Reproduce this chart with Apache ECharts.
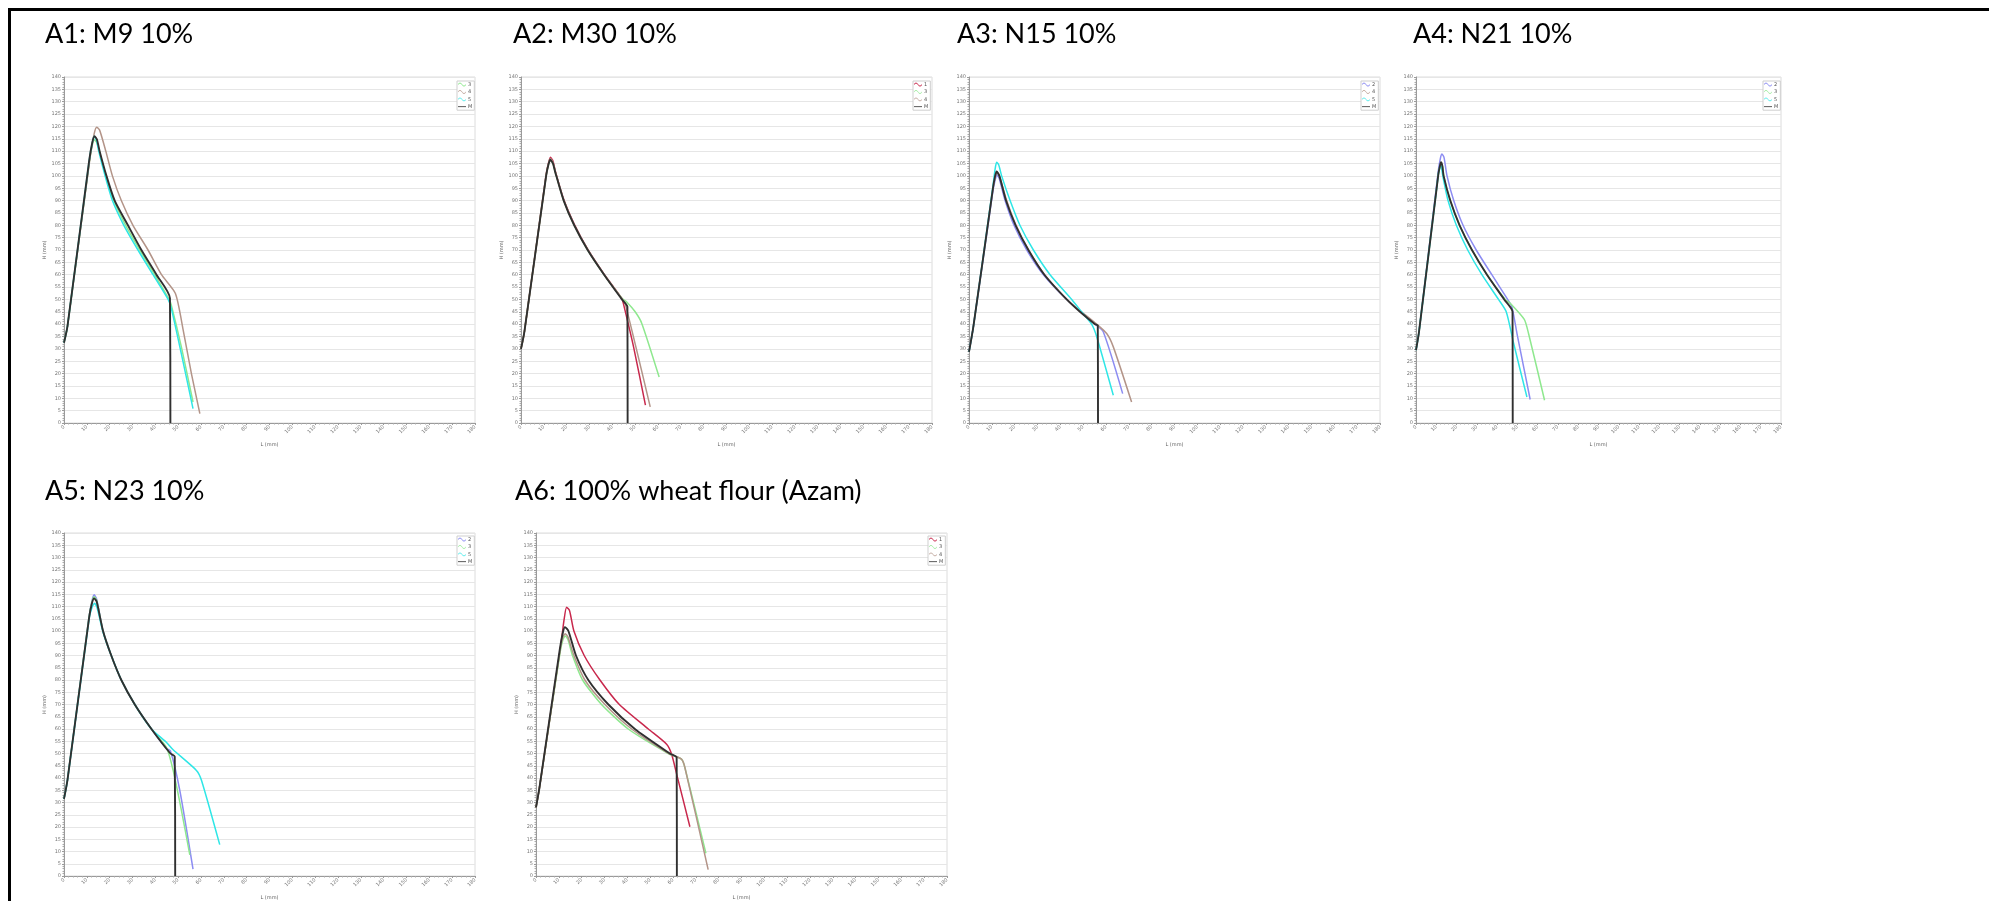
<!DOCTYPE html>
<html><head><meta charset="utf-8">
<script src="https://cdn.jsdelivr.net/npm/echarts/dist/echarts.min.js"></script>
<style>html,body{margin:0;padding:0;background:#fff}#c{width:1989px;height:901px}</style>
</head><body><div id="c"></div>
<script>
// ---------- tick settings ----------
const X_MIN = 0, X_MAX = 180, X_STEP = 10;
const Y_MIN = 0, Y_MAX = 140, Y_STEP = 5;
const X_NAME = 'L (mm)', Y_NAME = 'H (mm)';
const TITLES = ['A1: M9 10%', 'A2: M30 10%', 'A3: N15 10%', 'A4: N21 10%', 'A5: N23 10%', 'A6: 100% wheat flour (Azam)'];

// ---------- data: [L (mm), H (mm)] ----------
const A1_3 = [[0,32.5],[1.5,39],[11,105],[12.3,112],[13.2,114.6],[14.3,113.5],[15.5,110],[18.3,100],[21.8,90],[27,80],[33.2,70],[39.7,60],[46,50],[47,47.7],[51.4,30.8],[56.5,8.5]];
const A1_4 = [[0,32.5],[1.5,39],[11.5,108],[13.2,117],[14.3,119.7],[15.6,118.5],[18.3,110],[21.2,100],[25.1,90],[30.2,80],[36.8,70],[42.7,60],[48.8,52.4],[52.2,37.6],[55.8,20],[59.5,3.8]];
const A1_5 = [[0,32.5],[1.5,39],[11,106],[12.3,113],[13.2,116],[14.2,114.5],[15.2,110],[18,100],[21.2,90],[26.2,80],[32.4,70],[39,60],[45.6,50],[47,46.4],[51.4,28],[56.5,5.8]];
const A1_M = [[0,32.5],[1.5,39],[11,106],[12.4,113.5],[13.4,116],[14.4,114.8],[15.6,110],[18.6,100],[22.2,90],[28,80],[33.9,70],[40.5,60],[46.4,50.5],[46.6,0]];

const A2_1 = [[0,30],[1.5,37],[11,100.5],[12,105],[12.9,107.5],[14,106],[15,102],[18.7,90.5],[23.3,80.5],[29.2,70.3],[36.4,60.2],[44.2,50.3],[44.8,48.5],[49.3,30.8],[54.5,7.2]];
const A2_3 = [[0,30],[1.5,37],[11,100],[12,104.5],[12.8,106.5],[14,105],[15,101.5],[18.7,90],[23.3,80],[29.2,70],[36.4,60],[44.2,50.5],[46.3,49],[50,45],[52.9,40.3],[60.5,18.6]];
const A2_4 = [[0,30],[1.5,37],[11,100],[12,104.8],[12.9,107],[14,105.5],[15,101.8],[18.7,90.2],[23.3,80.2],[29.2,70.2],[36.4,60.1],[44.2,50.3],[45.6,48.4],[56.6,6.5]];
const A2_M = [[0,30],[1.5,37],[11,100],[12,104.5],[12.8,106.5],[14,105],[15,101.5],[18.7,90],[23.3,80],[29.2,70],[36.4,60],[44.2,50],[46.6,47],[46.7,0]];

const A3_2 = [[0,28.8],[1.9,38.9],[10.5,94],[11.5,98.5],[12.2,100.4],[13.2,99],[15.8,90],[19.7,80],[25.3,70],[32.6,60],[42.8,50],[55.2,40],[58.8,36.9],[67.3,11.9]];
const A3_4 = [[0,28.8],[1.9,38.9],[10.5,95],[11.5,99.5],[12.3,101.5],[13.3,100],[16.5,90],[20.6,80],[26.1,70],[33.1,60],[42.8,50],[55.9,40],[60.3,36.2],[63.2,30.8],[71.2,8.5]];
const A3_5 = [[0,28.8],[1.9,38.9],[10.5,96],[11.4,102.5],[12.1,105.5],[13,104.5],[14.3,100],[18,90],[22.3,80],[28.2,70],[35.5,60],[45,50],[49.3,45],[53.7,40],[55.9,35],[63.2,11.2]];
const A3_M = [[0,28.8],[1.9,38.9],[10.5,95],[11.4,99.8],[12.1,101.8],[13.3,100],[16.2,90],[20.4,80],[26,70],[33,60],[42.8,50],[48.6,45],[55.2,40],[56.4,39.5],[56.5,0]];

const A4_2 = [[0,29.5],[1.5,37],[11,102],[12,107],[12.8,108.8],[13.8,107.5],[15.3,100],[18.6,90],[23.2,80],[29.7,70],[37.4,60],[45.2,50],[47.3,47],[49.8,36.2],[56.3,9.5]];
const A4_3 = [[0,29.5],[1.5,37],[11,100.5],[11.8,103.8],[12.3,105],[13.2,103.5],[13.7,100],[16.9,90],[21.5,80],[27.6,70],[35,60],[44,50],[46.5,48.4],[53.4,41.9],[55.5,36.2],[63.4,9.2]];
const A4_5 = [[0,29.5],[1.5,37],[11,100.5],[11.7,103.5],[12.2,104.7],[13.2,100],[15.8,90],[19.9,80],[25.5,70],[32.5,60],[40.7,50],[44.5,45],[48.1,32.4],[54.7,10.5]];
const A4_M = [[0,29.5],[1.5,37],[11,100.5],[11.8,104],[12.3,105.5],[13,104],[13.6,100],[16.9,90],[21.5,80],[27.6,70],[35,60],[43.5,50],[47.6,45],[47.7,0]];

const A5_2 = [[0,31.5],[1.5,39],[11,106],[12.3,112.5],[13.2,114.8],[14.3,113],[17.1,100],[20.7,90],[25.1,80],[31,70],[38.3,60],[44.9,52],[46.6,51.1],[50.7,35],[56.5,2.8]];
const A5_3 = [[0,31.5],[1.5,39],[11,106],[12.3,112],[13.2,114],[14.3,112.5],[17.1,100],[20.7,90],[25.1,80],[31,70],[38.3,60],[44.9,52.4],[47.8,43.1],[51.4,26.9],[55.1,8.6]];
const A5_5 = [[0,31.5],[1.5,39],[11,105],[12.4,110],[13.4,111.3],[14.5,109.5],[17.1,99.5],[20.7,90],[25.1,80],[31,70],[38.3,60],[44.9,54.5],[47.8,51.5],[58,43.1],[60.2,39.1],[68.2,12.8]];
const A5_M = [[0,31.5],[1.5,39],[11,105.5],[12.3,111.5],[13.2,113.3],[14.3,112],[17.1,100],[20.7,90],[25.1,80],[31,70],[38.3,60],[46.6,50],[48.5,48.8],[48.7,0]];

const A6_1 = [[0,28],[1.5,36],[11,95],[12.2,104],[13.4,109.7],[14.7,108.3],[16.6,100],[21.1,90],[28,80],[36.5,70],[49.2,60],[57.2,53.8],[59.4,49.7],[61.6,41.6],[67.4,20.1]];
const A6_3 = [[0,28],[1.5,36],[10.5,91],[11.8,96.5],[12.8,98],[14,96.5],[16,90],[20.4,80],[28.7,70],[40.4,60],[57.9,50],[63.7,47.7],[65.2,44.3],[74.4,9.3]];
const A6_4 = [[0,28],[1.5,36],[10.5,92],[11.8,97.5],[12.8,98.9],[14,97.5],[16.6,90],[21.4,80],[30.2,70],[41.9,60],[58.2,50],[63.7,47.7],[65.2,44.3],[75.4,2.6]];
const A6_M = [[0,28],[1.5,36],[10.5,93],[11.8,99.5],[12.7,101.6],[14.2,100],[17.5,90],[22.9,80],[31.7,70],[43.3,60],[58.6,50],[61.6,48.4],[61.7,0]];

const PANEL_SERIES = [
  [['3', A1_3], ['4', A1_4], ['5', A1_5], ['M', A1_M]],
  [['1', A2_1], ['3', A2_3], ['4', A2_4], ['M', A2_M]],
  [['2', A3_2], ['4', A3_4], ['5', A3_5], ['M', A3_M]],
  [['2', A4_2], ['3', A4_3], ['5', A4_5], ['M', A4_M]],
  [['2', A5_2], ['3', A5_3], ['5', A5_5], ['M', A5_M]],
  [['1', A6_1], ['3', A6_3], ['4', A6_4], ['M', A6_M]]
];

// ---------- styling / layout ----------
const COLORS = {'1':'#c8284c','2':'#8c8cf2','3':'#8ee88e','4':'#b39488','5':'#2ee6e6','M':'#303030'};
const WAVE = 'path://M0,3 C2,0 4,0 6,3 C8,6 10,6 12,3 L12,4.2 C10,7.2 8,7.2 6,4.2 C4,1.2 2,1.2 0,4.2 Z';
const FLAT = 'path://M0,0 L12,0 L12,1.2 L0,1.2 Z';
const LAYOUT = [
  {grid:{left:64, top:77, width:411, height:346}, legend:{left:457, top:81}, title:{x:45, y:34}},
  {grid:{left:521, top:77, width:411, height:346}, legend:{left:913, top:81}, title:{x:513, y:34}},
  {grid:{left:969, top:77, width:411, height:346}, legend:{left:1361, top:81}, title:{x:957, y:34}},
  {grid:{left:1416, top:77, width:365, height:346}, legend:{left:1763, top:81}, title:{x:1413, y:34}},
  {grid:{left:64, top:533, width:411, height:347}, legend:{left:457, top:536}, title:{x:45, y:491}},
  {grid:{left:536, top:533, width:411, height:347}, legend:{left:928, top:536}, title:{x:515, y:491}}
];

const grids = [], xAxes = [], yAxes = [], legends = [], series = [], graphics = [];
LAYOUT.forEach((L, i) => {
  grids.push(Object.assign({show:true, borderColor:'#dcdcdc', borderWidth:1, backgroundColor:'#fff'}, L.grid));
  xAxes.push({
    type:'value', gridIndex:i, min:X_MIN, max:X_MAX, interval:X_STEP,
    name:X_NAME, nameLocation:'middle', nameGap:19,
    nameTextStyle:{fontSize:5, color:'#666', fontFamily:'DejaVu Sans'},
    axisLine:{lineStyle:{color:'#9a9a9a', width:1}},
    axisTick:{show:true, length:2, lineStyle:{color:'#9a9a9a'}},
    minorTick:{show:true, splitNumber:5, length:1.5, lineStyle:{color:'#aaa'}},
    axisLabel:{fontSize:5, rotate:45, color:'#777', margin:3, fontFamily:'DejaVu Sans'},
    splitLine:{show:false}
  });
  yAxes.push({
    type:'value', gridIndex:i, min:Y_MIN, max:Y_MAX, interval:Y_STEP,
    name:Y_NAME, nameLocation:'middle', nameGap:14, nameRotate:90,
    nameTextStyle:{fontSize:5, color:'#666', fontFamily:'DejaVu Sans'},
    axisLine:{show:true, lineStyle:{color:'#9a9a9a', width:1}},
    axisTick:{show:true, length:2, lineStyle:{color:'#9a9a9a'}},
    minorTick:{show:true, splitNumber:5, length:1.5, lineStyle:{color:'#aaa'}},
    axisLabel:{fontSize:5, color:'#777', margin:3, fontFamily:'DejaVu Sans'},
    splitLine:{show:true, lineStyle:{color:'#e6e6e6', width:1}}
  });
  const names = PANEL_SERIES[i].map(s => s[0]);
  legends.push({
    orient:'vertical', left:L.legend.left, top:L.legend.top,
    backgroundColor:'#fff', borderColor:'#cfcfcf', borderWidth:1, borderRadius:0,
    padding:[1,2,1,1], itemWidth:8, itemHeight:5, itemGap:2.4,
    textStyle:{fontSize:5, color:'#555', fontFamily:'DejaVu Sans', padding:[0,0,0,-3]},
    selectedMode:false,
    data: names.map(n => ({name:n, icon: n === 'M' ? FLAT : WAVE}))
  });
  PANEL_SERIES[i].forEach(([name, data]) => {
    series.push({
      type:'line', name, xAxisIndex:i, yAxisIndex:i, data,
      showSymbol:false, smooth:0.22,
      color: COLORS[name],
      lineStyle:{color:COLORS[name], width: name === 'M' ? 1.9 : 1.5},
      animation:false, silent:true
    });
  });
  graphics.push({
    type:'text', x:L.title.x, y:L.title.y,
    style:{text:TITLES[i], font:'27px Lato', fill:'#000', verticalAlign:'middle', align:'left'}
  });
});
graphics.push({
  type:'polyline', shape:{points:[[9.5,901],[9.5,9.5],[1989,9.5]]},
  style:{stroke:'#000', lineWidth:3, fill:null}
});

const chart = echarts.init(document.getElementById('c'), null, {renderer:'canvas'});
chart.setOption({
  animation:false,
  backgroundColor:'#fff',
  grid:grids, xAxis:xAxes, yAxis:yAxes, legend:legends, series, graphic:graphics
});
</script></body></html>
